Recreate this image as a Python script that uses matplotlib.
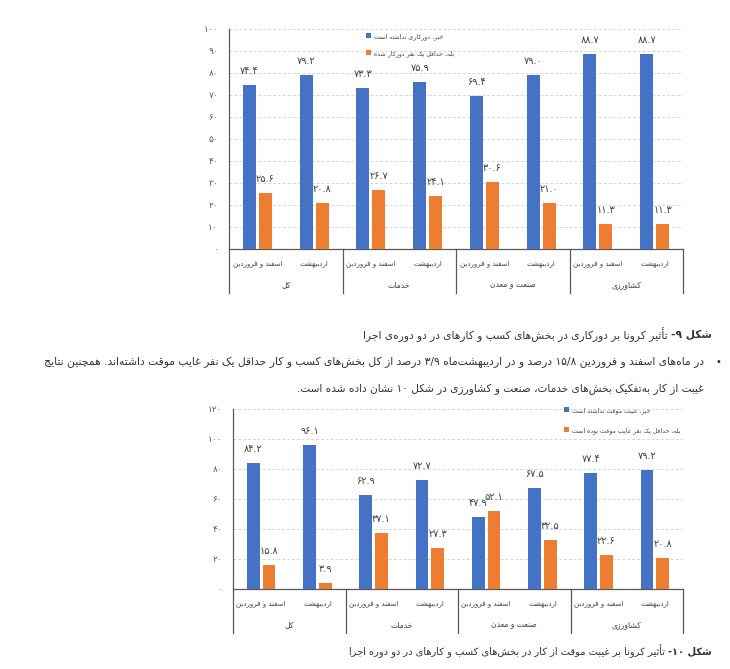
import re
import matplotlib
matplotlib.use('Agg')
import matplotlib.pyplot as plt

plt.rcParams['font.family'] = ['DejaVu Sans']

# data
groups = ['کل', 'خدمات', 'صنعت و معدن', 'کشاورزی']
periods = ['اسفند و فروردین', 'اردیبهشت']

remote_no = [74.4, 79.2, 73.3, 75.9, 69.4, 79.0, 88.7, 88.7]
remote_yes = [25.6, 20.8, 26.7, 24.1, 30.6, 21.0, 11.3, 11.3]
absent_no = [84.2, 96.1, 62.9, 72.7, 47.9, 67.5, 77.4, 79.2]
absent_yes = [15.8, 3.9, 37.1, 27.3, 52.1, 32.5, 22.6, 20.8]

remote_legend = ['خیر، دورکاری نداشته است', 'بله، حداقل یک نفر دورکار شده']
absent_legend = ['خیر، غیبت موقت نداشته است', 'بله، حداقل یک نفر غایب موقت بوده است']

yticks1 = [0, 10, 20, 30, 40, 50, 60, 70, 80, 90, 100]
yticks2 = [0, 20, 40, 60, 80, 100, 120]

caption1 = ['شکل ۹-', ' تأثیر کرونا بر دورکاری در بخش‌های کسب و کارهای در دو دوره‌ی اجرا']
caption2 = ['شکل ۱۰-', ' تأثیر کرونا بر غیبت موقت از کار در بخش‌های کسب و کارهای در دو دوره اجرا']
body1 = 'در ماه‌های اسفند و فروردین ۱۵/۸ درصد و در اردیبهشت‌ماه ۳/۹ درصد از کل بخش‌های کسب و کار حداقل یک نفر غایب موقت داشته‌اند. همچنین نتایج'
body2 = 'غیبت از کار به‌تفکیک بخش‌های خدمات، صنعت و کشاورزی در شکل ۱۰ نشان داده شده است.'

BLUE = '#4472C4'
ORANGE = '#ED7D31'
GREY = '#595959'
TEXT = '#333333'

# --- tiny arabic/persian shaper, matplotlib has no text shaping ---
FORMS = {'ء': 0xFE80, 'آ': 0xFE81, 'أ': 0xFE83, 'ؤ': 0xFE85, 'إ': 0xFE87, 'ئ': 0xFE89,
         'ا': 0xFE8D, 'ب': 0xFE8F, 'ة': 0xFE93, 'ت': 0xFE95, 'ث': 0xFE99, 'ج': 0xFE9D,
         'ح': 0xFEA1, 'خ': 0xFEA5, 'د': 0xFEA9, 'ذ': 0xFEAB, 'ر': 0xFEAD, 'ز': 0xFEAF,
         'س': 0xFEB1, 'ش': 0xFEB5, 'ص': 0xFEB9, 'ض': 0xFEBD, 'ط': 0xFEC1, 'ظ': 0xFEC5,
         'ع': 0xFEC9, 'غ': 0xFECD, 'ف': 0xFED1, 'ق': 0xFED5, 'ك': 0xFED9, 'ل': 0xFEDD,
         'م': 0xFEE1, 'ن': 0xFEE5, 'ه': 0xFEE9, 'و': 0xFEED, 'ى': 0xFEEF, 'ي': 0xFEF1,
         'پ': 0xFB56, 'چ': 0xFB7A, 'ژ': 0xFB8A, 'ک': 0xFB8E, 'گ': 0xFB92, 'ی': 0xFBFC}
RIGHT_ONLY = set('آأؤإاةدذرزوىژ')
LAM_ALEF = {'آ': 0xFEF5, 'أ': 0xFEF7, 'إ': 0xFEF9, 'ا': 0xFEFB}


def can_next(c):
    return c in FORMS and c not in RIGHT_ONLY and c != 'ء'


def shape(s):
    out = []
    i = 0
    while i < len(s):
        c = s[i]
        if c not in FORMS:
            out.append(c)
            i += 1
            continue
        prev = s[i-1] if i > 0 else ''
        nxt = s[i+1] if i < len(s)-1 else ''
        jp = can_next(prev) and c != 'ء'
        if c == 'ل' and nxt in LAM_ALEF:
            out.append(chr(LAM_ALEF[nxt] + (1 if jp else 0)))
            i += 2
            continue
        jn = can_next(c) and nxt in FORMS and nxt != 'ء'
        if jp and jn:
            k = 3
        elif jp:
            k = 1
        elif jn:
            k = 2
        else:
            k = 0
        out.append(chr(FORMS[c] + k))
        i += 1
    return ''.join(out).replace('\u200c', '')


def fa(s):
    toks = re.findall(r'[0-9۰-۹]+(?:[./][0-9۰-۹]+)*|.', shape(s))
    return ''.join(reversed(toks))


DIG = str.maketrans('0123456789', '۰۱۲۳۴۵۶۷۸۹')


def num(v, fmt='{:.1f}'):
    return fmt.format(v).translate(DIG)


W, H = 730, 669
fig = plt.figure(figsize=(W/100, H/100), dpi=100)


def box(l, t, r, b):
    return [l/W, 1-b/H, (r-l)/W, (b-t)/H]


def chart(l, t, r, b, yticks, s1, s2, legend, leg_x, leg_y, leg_sp):
    ax = fig.add_axes(box(l, t, r, b))
    h = b - t
    x = list(range(len(s1)))
    ax.bar([i-0.14 for i in x], s1, 0.23, color=BLUE, label=fa(legend[0]), zorder=3)
    ax.bar([i+0.14 for i in x], s2, 0.23, color=ORANGE, label=fa(legend[1]), zorder=3)
    for i in x:
        ax.annotate(num(s1[i]), (i-0.14, s1[i]), xytext=(0, 6.5), textcoords='offset points',
                    ha='center', va='bottom', fontsize=7, color='#404040')
        ax.annotate(num(s2[i]), (i+0.14, s2[i]), xytext=(0, 6.5), textcoords='offset points',
                    ha='center', va='bottom', fontsize=7, color='#404040')
    ax.set_xlim(-0.5, len(s1)-0.5)
    ax.set_ylim(0, yticks[-1])
    ax.set_yticks(yticks)
    ax.set_yticklabels([num(v, '{:d}') for v in yticks], fontsize=6.5, color=GREY)
    ax.tick_params(axis='y', length=0, pad=8)
    ax.set_xticks([])
    ax.grid(axis='y', color='#d6d6d6', linestyle=(0, (3, 2)), linewidth=0.7, zorder=0)
    for sp in ['top', 'right']:
        ax.spines[sp].set_visible(False)
    ax.spines['left'].set_color(GREY)
    ax.spines['bottom'].set_color(GREY)
    ax.spines['left'].set_linewidth(0.9)
    ax.spines['bottom'].set_linewidth(0.9)

    tr = ax.get_xaxis_transform()
    for k in range(len(groups)+1):
        ax.plot([2*k-0.5, 2*k-0.5], [0, -44/h], transform=tr, clip_on=False,
                color=GREY, lw=0.9)
    for i in x:
        ax.text(i, -15/h, fa(periods[i % 2]), transform=tr, ha='center', va='center',
                fontsize=5, color='#404040')
    for g in range(len(groups)):
        ax.text(2*g+0.5, -36/h, fa(groups[g]), transform=tr, ha='center', va='center',
                fontsize=5.5, color='#404040')

    ax.legend(loc='upper left', bbox_to_anchor=(leg_x/W, 1-leg_y/H),
              bbox_transform=fig.transFigure, frameon=False, fontsize=4.5,
              handlelength=0.8, handleheight=0.8, handletextpad=0.5,
              labelspacing=leg_sp, borderpad=0, borderaxespad=0, labelcolor='#404040')
    return ax


chart(229, 29, 683, 249, yticks1, remote_no, remote_yes, remote_legend, 366, 33, 1.6)
chart(233, 409, 683, 589, yticks2, absent_no, absent_yes, absent_legend, 564, 407, 2.1)

renderer = fig.canvas.get_renderer()


def caption(parts, xr, y, size):
    t = fig.text(xr/W, 1-y/H, fa(parts[0]), ha='right', va='center', fontsize=size,
                 fontweight='bold', color=TEXT)
    w = t.get_window_extent(renderer).width
    fig.text((xr-w)/W, 1-y/H, fa(parts[1]), ha='right', va='center', fontsize=size,
             color=TEXT)


caption(caption1, 712, 335, 7.7)
caption(caption2, 712, 651, 7.15)

fig.text(718/W, 1-362/H, '•', ha='center', va='center', fontsize=7, color=TEXT)
fig.text(704/W, 1-362/H, fa(body1), ha='right', va='center', fontsize=7.75, color=TEXT)
fig.text(704/W, 1-389/H, fa(body2), ha='right', va='center', fontsize=7.6, color=TEXT)

fig.savefig('out.png', dpi=100)
